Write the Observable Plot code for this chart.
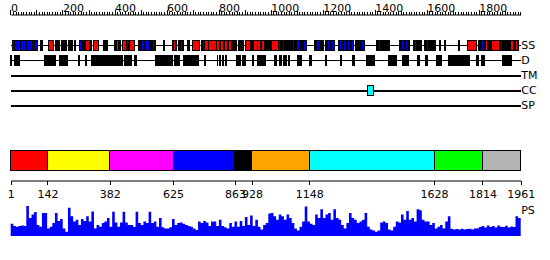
<!DOCTYPE html>
<html><head><meta charset="utf-8">
<script src="https://cdn.jsdelivr.net/npm/d3@7"></script>
<script src="https://cdn.jsdelivr.net/npm/@observablehq/plot@0.6"></script>
<style>
body{margin:0;background:#fff;}
#chart{position:relative;width:550px;height:260px;overflow:hidden;}
#chart svg{position:absolute;left:0;top:0;background:transparent;overflow:visible;}
</style></head><body><div id="chart"></div>
<script>
const LENGTH = 1961;
const rulerLabels = [0,200,400,600,800,1000,1200,1400,1600,1800];
const tracks = ["SS","D","TM","CC","SP"];
// secondary structure segments [start, end, type] H=helix E=strand C=other
const ssSegments = [
[6,17,"E"],[17,28,"E"],[28,39,"E"],[39,50,"E"],[50,61,"E"],[61,72,"E"],[72,83,"E"],[83,94,"E"],[94,104,"E"],
[115,123,"C"],[145,166,"H"],[174,180,"C"],[180,184,"H"],[184,187,"C"],[197,215,"C"],[224,231,"C"],[235,240,"C"],[245,250,"C"],
[264,266,"C"],[266,274,"E"],[274,277,"C"],[282,290,"C"],[290,303,"H"],[303,311,"C"],[321,339,"H"],
[356,364,"C"],[364,370,"E"],[370,373,"C"],[401,407,"C"],[407,416,"H"],[416,423,"C"],
[432,445,"H"],[445,452,"E"],[452,458,"C"],[458,478,"H"],
[494,505,"C"],[505,510,"E"],[510,516,"C"],[516,535,"E"],[535,545,"C"],[545,552,"E"],[552,558,"C"],
[587,593,"C"],[624,628,"C"],[628,634,"H"],[634,638,"C"],[647,653,"C"],[653,663,"E"],[663,667,"C"],[679,689,"C"],
[699,725,"H"],[734,739,"C"],[739,744,"E"],[744,747,"C"],
[747,760,"H"],[760,763,"C"],[763,790,"H"],[790,793,"C"],[793,805,"H"],[805,808,"C"],[808,820,"H"],[820,823,"C"],[823,835,"H"],[835,838,"C"],[838,850,"H"],[850,869,"C"],
[876,880,"C"],[883,887,"C"],[890,895,"C"],[902,923,"H"],
[927,933,"C"],[933,948,"H"],[948,951,"C"],[951,960,"H"],[960,963,"C"],[963,975,"H"],[975,980,"C"],
[984,990,"C"],[990,996,"E"],[996,1003,"C"],[1003,1029,"H"],
[1031,1038,"E"],[1038,1046,"C"],[1046,1053,"E"],[1053,1063,"C"],[1063,1070,"E"],[1070,1085,"C"],[1085,1093,"E"],[1093,1101,"C"],[1101,1112,"E"],[1112,1128,"C"],[1128,1136,"E"],
[1170,1178,"C"],[1178,1186,"E"],[1186,1202,"C"],
[1209,1217,"C"],[1217,1225,"E"],[1225,1233,"C"],[1233,1240,"E"],[1240,1247,"C"],
[1259,1265,"C"],[1265,1272,"E"],[1272,1280,"C"],[1280,1288,"E"],[1288,1295,"C"],[1295,1302,"E"],[1302,1310,"C"],[1310,1317,"E"],
[1326,1332,"C"],[1332,1338,"E"],[1338,1350,"C"],[1350,1356,"E"],[1356,1362,"C"],
[1407,1415,"C"],[1415,1423,"E"],[1423,1440,"C"],[1440,1447,"E"],[1447,1458,"C"],
[1497,1503,"C"],[1503,1509,"E"],[1509,1518,"C"],[1518,1525,"E"],[1525,1535,"C"],
[1548,1554,"C"],[1554,1562,"E"],[1562,1580,"C"],[1590,1600,"C"],[1600,1608,"E"],[1608,1625,"C"],
[1629,1632,"C"],[1649,1652,"C"],[1668,1671,"C"],[1721,1725,"C"],[1755,1790,"H"],[1798,1802,"C"],
[1806,1812,"C"],[1812,1818,"E"],[1818,1826,"C"],[1826,1835,"H"],[1835,1840,"C"],[1840,1846,"H"],[1846,1850,"C"],[1850,1880,"H"],[1880,1884,"C"],[1884,1892,"E"],[1892,1898,"C"],[1898,1904,"E"],[1904,1915,"C"],
[1915,1920,"C"],[1920,1935,"H"],[1935,1940,"C"],[1940,1950,"H"],[1950,1954,"C"]
];
const ssColors = {H:"#ff0000", E:"#0000ff", C:"#000000"};
// disorder segments
const disorderSegments = [[1,3],[17,33],[132,173],[187,221],[263,267],[288,293],[312,325],[332,432],[440,456],[458,466],[476,485],[559,623],[632,648],[667,700],[705,724],[745,751],[794,797],[804,807],[815,818],[827,830],[869,884],[890,904],[930,935],[948,967],[970,980],[1016,1022],[1035,1041],[1051,1060],[1067,1073],[1105,1118],[1148,1157],[1209,1215],[1267,1273],[1313,1321],[1368,1378],[1385,1398],[1452,1484],[1505,1513],[1520,1528],[1564,1572],[1595,1601],[1638,1657],[1683,1766],[1791,1800],[1811,1821],[1892,1924]];
const ccSegments = [[1371,1394]];
const domainStarts = [1,142,382,625,863,928,1148,1628,1814];
const domainEnds = [142,382,625,863,928,1148,1628,1814,1961];
const domainColors = ["#ff0000","#ffff00","#ff00ff","#0000ff","#000000","#ffa500","#00ffff","#00ff00","#b3b3b3"];
const domainTicks = [1,142,382,625,863,928,1148,1628,1814,1961];
const psBin = 10;
const psValues = [
0.41,0.33,0.31,0.33,0.35,0.33,1.0,0.6,0.72,0.8,0.37,0.31,0.77,0.77,0.25,0.31,0.43,0.77,0.5,0.57,
0.25,0.14,0.94,0.66,0.48,0.54,0.37,0.57,0.5,0.66,0.48,0.82,0.25,0.37,0.31,0.43,0.48,0.6,0.31,0.81,
0.45,0.31,0.45,0.81,0.45,0.37,0.37,0.31,0.81,0.43,0.37,0.48,0.43,0.81,0.43,0.48,0.31,0.6,0.29,0.25,
0.25,0.29,0.57,0.37,0.43,0.45,0.41,0.37,0.33,0.31,0.25,0.2,0.48,0.43,0.5,0.45,0.33,0.48,0.48,0.33,
0.54,0.33,0.29,0.25,0.43,0.31,0.48,0.31,0.5,0.33,0.63,0.37,0.68,0.33,0.54,0.31,0.22,0.37,0.43,0.75,
0.77,0.66,0.54,0.72,0.66,0.54,0.72,0.6,0.43,0.25,0.18,0.31,0.48,0.98,0.48,0.41,0.37,0.72,0.6,0.89,
0.6,0.72,0.77,0.54,0.89,0.6,0.54,0.37,0.25,0.43,0.77,0.6,0.54,0.43,0.48,0.54,0.77,0.31,0.22,0.18,
0.14,0.18,0.45,0.48,0.43,0.22,0.18,0.31,0.48,0.45,0.72,0.54,0.83,0.54,0.6,0.48,0.89,0.86,0.54,0.48,
0.48,0.37,0.43,0.25,0.31,0.37,0.25,0.48,0.66,0.24,0.22,0.23,0.22,0.24,0.22,0.23,0.24,0.22,0.25,0.26,
0.3,0.33,0.28,0.35,0.3,0.33,0.28,0.35,0.31,0.3,0.34,0.28,0.32,0.3,0.66,0.6,0.45];

const FONT = "DejaVu Sans, sans-serif";
const common = {width:550, marginLeft:10.7, marginRight:29.3, style:{fontFamily:FONT, fontSize:"11px", background:"transparent", overflow:"visible"}};
const xScale = {domain:[1, LENGTH], axis:null};
const chart = document.getElementById("chart");

// ruler
chart.append(Plot.plot({...common, height:15, marginTop:14, marginBottom:0, x:xScale,
  marks:[
    Plot.frame({fill:"black", stroke:null}),
    Plot.axisX({anchor:"top", ticks:d3.range(0, LENGTH, 10), tickSize:3, tickFormat:()=>"", shapeRendering:"crispEdges"}),
    Plot.axisX({anchor:"top", ticks:d3.range(0, LENGTH, 100), tickSize:5, tickFormat:()=>"", shapeRendering:"crispEdges"}),
    Plot.axisX({anchor:"top", ticks:rulerLabels, tickSize:0, tickPadding:3, textAnchor:"start", tickFormat:d=>String(d), fontSize:11, fill:"black"})
  ]}));

// tracks
const ssData = ssSegments.map(([s,e,t]) => ({track:0, start:s, end:e, type:t}));
const dData = disorderSegments.map(([s,e]) => ({track:1, start:s, end:e}));
const ccData = ccSegments.map(([s,e]) => ({track:3, start:s, end:e}));
const trackData = tracks.map((name,i) => ({name, i}));
chart.append(Plot.plot({...common, height:115, marginTop:45, marginBottom:10, x:xScale, y:{domain:[0,4], reverse:true, axis:null},
  marks:[
    Plot.ruleY(trackData, {y:"i", x1:1, x2:LENGTH, strokeWidth:d => d.i < 2 ? 1 : 2, stroke:"black", shapeRendering:"crispEdges"}),
    Plot.rect(ssData, {x1:"start", x2:"end", y1:d=>d.track-1/3, y2:d=>d.track+1/3, fill:d=>ssColors[d.type], stroke:"black", shapeRendering:"crispEdges"}),
    Plot.rect(dData, {x1:"start", x2:"end", y1:d=>d.track-1/3, y2:d=>d.track+1/3, fill:"black", stroke:"black", shapeRendering:"crispEdges"}),
    Plot.rect(ccData, {x1:"start", x2:"end", y1:d=>d.track-1/3, y2:d=>d.track+1/3, fill:"#00ffff", stroke:"black", shapeRendering:"crispEdges"}),
    Plot.text(trackData, {x:LENGTH, y:"i", text:"name", textAnchor:"start", dx:0, fontSize:11, fill:"black"})
  ]}));

// domains
const domains = domainStarts.map((s,i) => ({start:s, end:domainEnds[i], color:domainColors[i]}));
chart.append(Plot.plot({...common, height:171, marginTop:150, marginBottom:0, x:xScale, color:{type:"identity"},
  marks:[
    Plot.barX(domains, {x1:"start", x2:"end", fill:"color", stroke:"black", insetTop:0.5, insetBottom:0.5, shapeRendering:"crispEdges"})
  ]}));
chart.append(Plot.plot({...common, height:181, marginTop:180, marginBottom:0, x:xScale,
  marks:[
    Plot.frame({fill:"black", stroke:null}),
    Plot.axisX({anchor:"bottom", ticks:domainTicks, tickSize:4, tickPadding:5, tickFormat:d=>String(d), fontSize:11, fill:"black", shapeRendering:"crispEdges"})
  ]}));

// PS profile
const psData = psValues.map((v,i) => ({pos: Math.min(LENGTH, 1 + i*psBin), v}));
psData.push({pos: LENGTH, v: psValues[psValues.length-1]});
chart.append(Plot.plot({...common, height:236, marginTop:206, marginBottom:0, x:xScale, y:{domain:[0,1], axis:null},
  marks:[
    Plot.areaY(psData, {x:"pos", y:"v", fill:"#0000ff", curve:"step-after"}),
    Plot.text(["PS"], {x:()=>LENGTH, y:()=>1, text:d=>d, textAnchor:"start", lineAnchor:"top", dy:0, fontSize:11, fill:"black"})
  ]}));
</script></body></html>
